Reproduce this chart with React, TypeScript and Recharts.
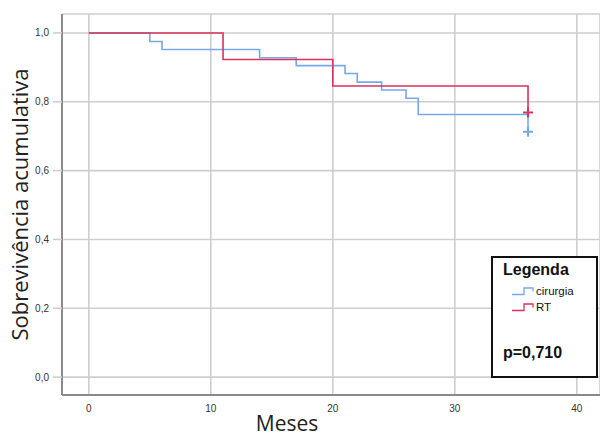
import { LineChart, Line, XAxis, YAxis, CartesianGrid } from 'recharts';

// Kaplan-Meier steps
const cirurgiaTimes = [0, 5, 6, 14, 17, 21, 22, 24, 26, 27, 36];
const cirurgiaSurv = [1.0, 0.975, 0.952, 0.928, 0.905, 0.882, 0.857, 0.834, 0.81, 0.763, 0.713];
const rtTimes = [0, 11, 20, 36];
const rtSurv = [1.0, 0.923, 0.846, 0.769];

const xTicks = [0, 10, 20, 30, 40];
const yTicks = [0, 0.2, 0.4, 0.6, 0.8, 1.0];

const BLUE = '#74aaea';
const RED = '#d9335c';
const GRID = '#cecece';
const AXIS = '#8a8a8a';

const toRows = (times: number[], surv: number[]) =>
  times.map((t, i) => ({ t, s: surv[i] }));

const censorDot = (color: string, last: number) => (props: any) => {
  const { cx, cy, index } = props;
  if (index !== last || cx == null) return <g key={`d-${index}`} />;
  return (
    <path
      key={`d-${index}`}
      d={`M${cx - 5},${cy} H${cx + 5} M${cx},${cy - 5} V${cy + 5}`}
      stroke={color}
      strokeWidth={2}
    />
  );
};

const StepIcon = ({ color }: { color: string }) => (
  <svg width={24} height={10} style={{ display: 'block' }}>
    <path d="M1,8.5 H13 V2 H22 V5.5" stroke={color} strokeWidth={1.3} fill="none" />
  </svg>
);

export default function App() {
  const cirurgia = toRows(cirurgiaTimes, cirurgiaSurv);
  const rt = toRows(rtTimes, rtSurv);
  const tickStyle = { fill: '#333', fontSize: 10, fontFamily: 'Liberation Sans, Arial, sans-serif' };

  return (
    <div style={{ position: 'relative', width: 600, height: 437, background: '#fff' }}>
      <style>{'body{margin:0}'}</style>
      <LineChart width={600} height={437} margin={{ top: 14, right: 0, bottom: 0, left: 0 }}>
        <CartesianGrid stroke={GRID} strokeWidth={1.6} />
        <XAxis
          type="number"
          dataKey="t"
          domain={[-2.2, 41.9]}
          ticks={xTicks}
          allowDataOverflow
          height={42}
          tickLine={false}
          tickSize={0}
          tickMargin={10}
          tick={tickStyle}
          axisLine={{ stroke: AXIS, strokeWidth: 2 }}
          label={{
            value: 'Meses',
            position: 'insideBottom',
            offset: 6,
            dx: -44,
            style: { fontSize: 21, fill: '#222', fontFamily: 'Open Sans, sans-serif' },
          }}
        />
        <YAxis
          type="number"
          dataKey="s"
          domain={[-0.052, 1.055]}
          ticks={yTicks}
          allowDataOverflow
          width={62}
          tickSize={9}
          tickMargin={4}
          tickLine={{ stroke: GRID, strokeWidth: 1.6 }}
          tick={tickStyle}
          tickFormatter={(v: number) => v.toFixed(1).replace('.', ',')}
          axisLine={{ stroke: AXIS, strokeWidth: 2 }}
          label={{
            value: 'Sobrevivência acumulativa',
            angle: -90,
            position: 'insideLeft',
            offset: 20,
            style: { textAnchor: 'middle', fontSize: 22, fill: '#222', fontFamily: 'Open Sans, sans-serif' },
          }}
        />
        <Line
          data={cirurgia}
          dataKey="s"
          type="stepAfter"
          stroke={BLUE}
          strokeWidth={1.6}
          dot={censorDot(BLUE, cirurgia.length - 1)}
          activeDot={false}
          isAnimationActive={false}
        />
        <Line
          data={rt}
          dataKey="s"
          type="stepAfter"
          stroke={RED}
          strokeWidth={1.6}
          dot={censorDot(RED, rt.length - 1)}
          activeDot={false}
          isAnimationActive={false}
        />
      </LineChart>
      <div
        style={{
          position: 'absolute',
          left: 491,
          top: 256,
          width: 103,
          height: 118,
          border: '2px solid #111',
          background: '#fff',
          fontFamily: 'Liberation Sans, Arial, sans-serif',
          color: '#111',
        }}
      >
        <div style={{ position: 'absolute', left: 10, top: 3, fontSize: 16, fontWeight: 'bold' }}>Legenda</div>
        <div style={{ position: 'absolute', left: 18, top: 27, display: 'flex', alignItems: 'center', fontSize: 11.5 }}>
          <StepIcon color={BLUE} />
          <span style={{ marginLeft: 1 }}>cirurgia</span>
        </div>
        <div style={{ position: 'absolute', left: 18, top: 43, display: 'flex', alignItems: 'center', fontSize: 11.5 }}>
          <StepIcon color={RED} />
          <span style={{ marginLeft: 1 }}>RT</span>
        </div>
        <div style={{ position: 'absolute', left: 10, top: 86, fontSize: 16, fontWeight: 'bold' }}>p=0,710</div>
      </div>
    </div>
  );
}
